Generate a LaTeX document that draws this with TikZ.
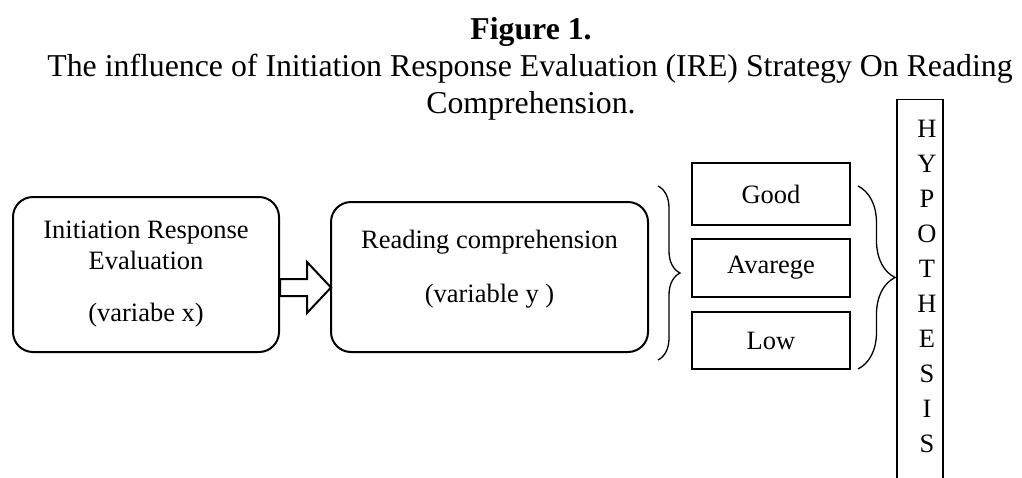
\documentclass[tikz,border=0pt]{standalone}
\usepackage{fontspec}
\setmainfont{Liberation Serif}
\usetikzlibrary{decorations.pathreplacing}

\newcommand{\hypletter}[1]{\hspace*{7pt}#1}

\begin{document}
\begin{tikzpicture}[x=0.5pt, y=-0.5pt,
    titlefont/.style={font=\fontsize{15.9}{18.5}\selectfont},
    boxfont/.style={font=\fontsize{13.25}{15.5}\selectfont},
    varbox/.style={draw, boxfont, rounded corners=10pt, line width=1pt, align=center},
    levelbox/.style={draw, boxfont, minimum width=79pt, align=center},
    bracket/.style={decorate, decoration={brace, amplitude=#1}, line width=0.65pt}]

    % Page size
    \useasboundingbox (0,0) rectangle (1022,477);
    \clip (0,0) rectangle (1022,477);

    % Title
    \node[anchor=base, titlefont] (fig) at (531,39) {\textbf{Figure 1.}};
    \node[anchor=base, titlefont] (capa) at (530,76) {The influence of Initiation Response Evaluation (IRE) Strategy On Reading};
    \node[anchor=base, titlefont] (capb) at (531,113) {Comprehension.};

    % Draw the two variable boxes
    \node[varbox, minimum width=133pt, minimum height=77.5pt] (ire) at (146,274.5)
        {Initiation Response\\Evaluation\\[10.5pt](variabe x)};
    \node[varbox, minimum width=158.5pt, minimum height=75pt, text depth=11.1pt] (rc) at (489.5,277)
        {Reading comprehension\\[11.5pt](variable y )};

    % Draw the hollow arrow from x to y
    \draw[line width=1pt] ([yshift=-2.25pt]ire.east) -- ++(27,0) -- ++(0,-17) -- ++(24,25.5)
        -- ++(-24,25.5) -- ++(0,-17) -- ++(-27,0) -- cycle;

    % Draw the three levels
    \foreach \y/\h/\w/\name/\label in {194/31pt/1.3pt/good/Good, 268/29pt/0.8pt/avg/Avarege, 340.5/28.5pt/0.8pt/low/Low} {
        \node[levelbox, minimum height=\h, line width=\w] (\name) at (771,\y) {\label};
    }

    % Draw the braces
    \draw[bracket=11pt] (658,186) -- (658,360);
    \draw[bracket=18.5pt] (858,186) -- (858,369);

    % Draw the hypothesis column
    \node[draw, anchor=north, line width=0.65pt, align=center, minimum width=23pt,
          inner xsep=0pt, inner ysep=10.2pt, text depth=20pt,
          font=\fontsize{13.25}{17.5}\selectfont] (hyp) at (920,99)
        {\hypletter{H}\\\hypletter{Y}\\\hypletter{P}\\\hypletter{O}\\\hypletter{T}\\
         \hypletter{H}\\\hypletter{E}\\\hypletter{S}\\\hypletter{I}\\\hypletter{S}};

\end{tikzpicture}
\end{document}
